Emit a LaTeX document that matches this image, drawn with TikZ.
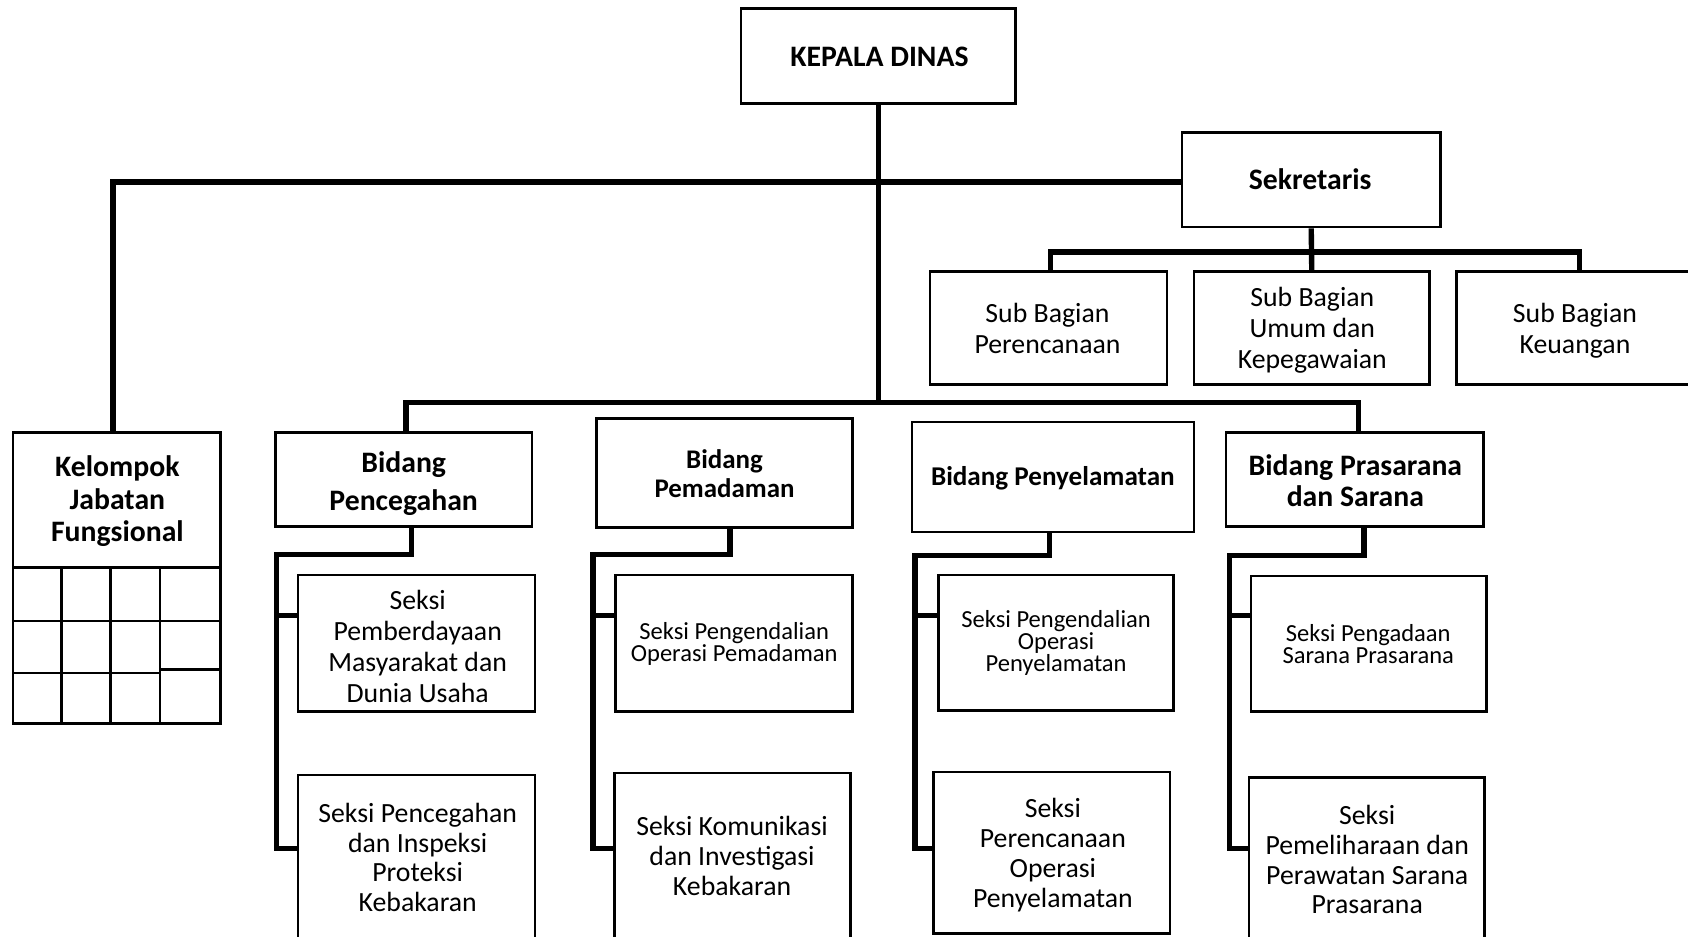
\documentclass[tikz,border=0pt]{standalone}
\usepackage{fontspec}
\setmainfont{Carlito}
\begin{document}
\begin{tikzpicture}[x=1pt,y=-1pt,
 box/.style={draw,line width=2.4pt,inner sep=0pt},
 conn/.style={line width=5pt},
 gridline/.style={line width=2.4pt},
 txt/.style={align=center,inner sep=0pt,font=\fontsize{25.8}{29}\selectfont},
 btxt/.style={align=center,inner sep=0pt,font=\fontsize{27.6}{30.5}\selectfont\bfseries},
 stxt/.style={align=center,inner sep=0pt,font=\fontsize{22.8}{20.5}\selectfont}]
\useasboundingbox (0,0) rectangle (1568,870);
\clip (0,0) rectangle (1568,870);
\fill[white] (0,0) rectangle (1568,870);

% top level
\node[box,minimum width=255pt,minimum height=88pt] (kd) at (816,52) {};
\node[btxt] (kdT) at (817,53) {KEPALA DINAS};
\node[box,minimum width=240pt,minimum height=88pt] (sk) at (1218,167) {};
\node[btxt] (skT) at (1217,166) {Sekretaris};

% sub bagian
\node[box,minimum width=220pt,minimum height=105pt] (sbp) at (974,304.5) {};
\node[txt] (sbpT) at (973,305) {Sub Bagian\\Perencanaan};
\node[box,minimum width=219pt,minimum height=105pt] (sbu) at (1218.5,304.5) {};
\node[txt] (sbuT) at (1219,307) {Sub Bagian\\Umum dan\\Kepegawaian};
\node[box,minimum width=220pt,minimum height=105pt] (sbk) at (1463,304.5) {};
\node[txt] (sbkT) at (1463,307.5) {Sub Bagian\\Keuangan};

% kelompok jabatan fungsional
\node[box,minimum width=193pt,minimum height=270pt] (kf) at (108.5,537) {};
\node[btxt] (kfT) at (109,465.5) {Kelompok\\Jabatan\\Fungsional};
\draw[gridline] (12,527) -- (205,527);
\draw[gridline] (12,577) -- (205,577);
\draw[gridline] (12,625) -- (148.6,625);
\draw[gridline] (148.6,622) -- (205,622);
\draw[gridline] (57.3,527) -- (57.3,672);
\draw[gridline] (102.8,527) -- (102.8,672);
\draw[gridline] (148.6,527) -- (148.6,672);

% bidang
\node[box,minimum width=238pt,minimum height=87pt] (pc) at (375,445.5) {};
\node[btxt,font=\fontsize{27.6}{35}\selectfont\bfseries] (pcT) at (375,449) {Bidang\\Pencegahan};
\node[box,minimum width=238pt,minimum height=101pt] (pm) at (673,439.5) {};
\node[btxt,font=\fontsize{25}{26.5}\selectfont\bfseries] (pmT) at (673,440) {Bidang\\Pemadaman};
\node[box,minimum width=262pt,minimum height=102pt] (py) at (978,443) {};
\node[btxt,font=\fontsize{25.2}{28}\selectfont\bfseries] (pyT) at (978,444) {Bidang Penyelamatan};
\node[box,minimum width=239pt,minimum height=87pt] (pr) at (1258.5,445.5) {};
\node[btxt,font=\fontsize{27.6}{29.5}\selectfont\bfseries] (prT) at (1259,446.5) {Bidang Prasarana\\dan Sarana};

% seksi
\node[box,minimum width=220pt,minimum height=127pt] (p1) at (387,597.5) {};
\node[txt,font=\fontsize{25.8}{28.5}\selectfont] (p1T) at (388,600.5) {Seksi\\Pemberdayaan\\Masyarakat dan\\Dunia Usaha};
\node[box,minimum width=220pt,minimum height=160pt] (p2) at (387,800) {};
\node[txt,font=\fontsize{25.8}{27.5}\selectfont] (p2T) at (388,796.5) {Seksi Pencegahan\\dan Inspeksi\\Proteksi\\Kebakaran};

\node[box,minimum width=220pt,minimum height=127pt] (m1) at (682,597.5) {};
\node[stxt] (m1T) at (682,598) {Seksi Pengendalian\\Operasi Pemadaman};
\node[box,minimum width=219pt,minimum height=162pt] (m2) at (680.5,799) {};
\node[txt,font=\fontsize{25.8}{28}\selectfont] (m2T) at (680,795) {Seksi Komunikasi\\dan Investigasi\\Kebakaran};

\node[box,minimum width=218pt,minimum height=126pt] (s1) at (981,597) {};
\node[stxt] (s1T) at (981,597) {Seksi Pengendalian\\Operasi\\Penyelamatan};
\node[box,minimum width=220pt,minimum height=150pt] (s2) at (977,792) {};
\node[txt,font=\fontsize{25.8}{27.7}\selectfont] (s2T) at (978,794.5) {Seksi\\Perencanaan\\Operasi\\Penyelamatan};

\node[box,minimum width=219pt,minimum height=126pt] (r1) at (1271.5,598) {};
\node[stxt] (r1T) at (1271,598) {Seksi Pengadaan\\Sarana Prasarana};
\node[box,minimum width=219pt,minimum height=158pt] (r2) at (1269.5,801) {};
\node[txt,font=\fontsize{25.8}{27.7}\selectfont] (r2T) at (1270,798.5) {Seksi\\Pemeliharaan dan\\Perawatan Sarana\\Prasarana};

% connectors
\coordinate (busy) at (0,374);
\coordinate (suby) at (0,234);
\draw[conn] (kd.south) -- (kd.south |- busy);
\draw[conn] ([xshift=2pt]pc.north) |- (busy -| kd.south) -| ([xshift=3.5pt]pr.north);
\draw[conn] ([xshift=-3.5pt]kf.north) |- ([yshift=-2pt]sk.west);
\draw[conn] (sk.south) -- (sbu.north);
\draw[conn] ([xshift=2pt]sbp.north) |- (suby -| sbu.north) -| ([xshift=4pt]sbk.north);

\coordinate (pcj) at (257,515);
\draw[conn] ([xshift=7pt]pc.south) |- (pcj) |- ([yshift=12pt]p2.west);
\draw[conn] ([yshift=25.5pt]p1.west) -- ++(-20,0);
\coordinate (pmj) at (551,515);
\draw[conn] ([xshift=5pt]pm.south) |- (pmj) |- ([yshift=11pt]m2.west);
\draw[conn] ([yshift=25.5pt]m1.west) -- ++(-21,0);
\coordinate (pyj) at (850,516);
\draw[conn] ([xshift=-3pt]py.south) |- (pyj) |- ([yshift=4pt]s2.west);
\draw[conn] ([yshift=25pt]s1.west) -- ++(-22,0);
\coordinate (prj) at (1142,516);
\draw[conn] ([xshift=8.5pt]pr.south) |- (prj) |- ([yshift=13pt]r2.west);
\draw[conn] ([yshift=26pt]r1.west) -- ++(-20,0);
\end{tikzpicture}
\end{document}
